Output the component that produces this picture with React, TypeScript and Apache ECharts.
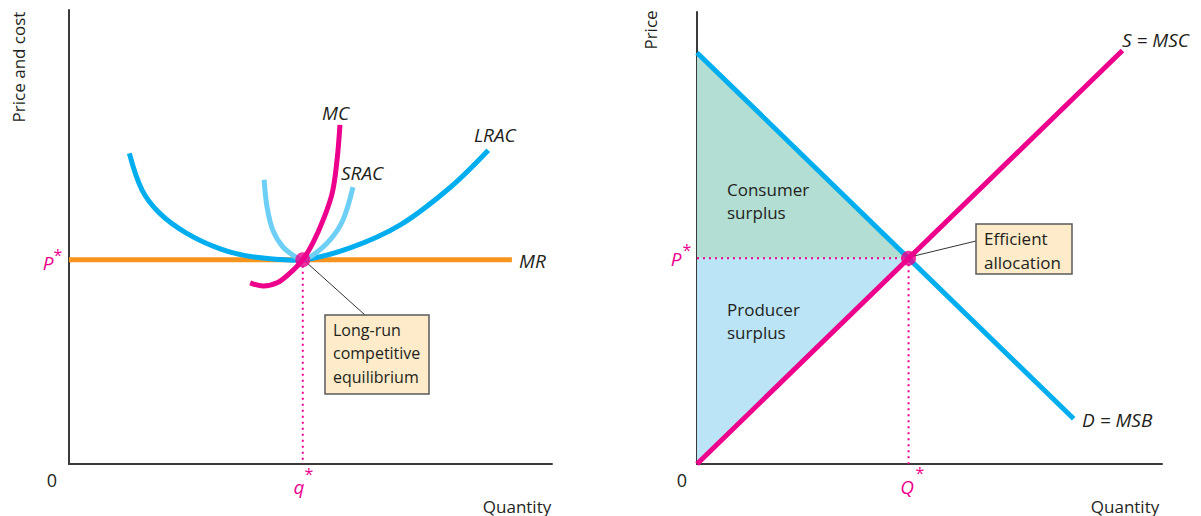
import React, { useEffect, useRef } from "react";
import * as echarts from "echarts";

// ---------- Left panel data (quantity 0-100, price/cost 0-100) ----------
const lracCurve: [number, number][] = [
  [12.5, 68.4], [15.1, 60.4], [18.8, 55.2], [24.4, 50.8], [31.3, 47.4],
  [38.2, 45.6], [48.4, 45.0], [58.2, 47.6], [68.5, 52.6], [78.9, 60.9], [86.8, 69.1],
];
const sracCurve: [number, number][] = [
  [40.4, 62.6], [41.0, 56.6], [42.2, 51.5], [44.3, 47.8], [47.2, 45.4], [48.4, 45.0],
  [50.5, 46.0], [54.0, 49.3], [56.7, 53.7], [58.8, 61.0],
];
const mcCurve: [number, number][] = [
  [37.5, 39.9], [40.2, 39.2], [43.1, 39.9], [45.8, 42.1], [48.4, 45.0], [50.5, 48.7],
  [52.6, 53.7], [54.5, 59.7], [55.5, 67.0], [56.1, 74.7],
];
const mrLine: [number, number][] = [[0, 45.0], [91.7, 45.0]];
const leftEquilibrium: [number, number] = [48.4, 45.0];

// ---------- Right panel data ----------
const demandLine: [number, number][] = [[0, 91.0], [81.0, 10.0]];
const supplyLine: [number, number][] = [[0, 0], [91.5, 91.5]];
const rightEquilibrium: [number, number] = [45.5, 45.5];

// ---------- Labels ----------
const leftAxisNames = { x: "Quantity", y: "Price and cost", origin: "0" };
const rightAxisNames = { x: "Quantity", y: "Price", origin: "0" };
const leftTickLabels = { x: "q", y: "P" };
const rightTickLabels = { x: "Q", y: "P" };
const curveLabels = { mr: "MR", lrac: "LRAC", srac: "SRAC", mc: "MC", s: "S = MSC", d: "D = MSB" };
const leftBoxLines = ["Long-run", "competitive", "equilibrium"];
const rightBoxLines = ["Efficient", "allocation"];
const consumerLabel = ["Consumer", "surplus"];
const producerLabel = ["Producer", "surplus"];

const FONT = "'Open Sans', 'DejaVu Sans', sans-serif";
const INK = "#231f20";
const MAGENTA = "#ec008c";
const BLUE = "#00aeef";
const LIGHTBLUE = "#6dcff6";
const ORANGE = "#f7941d";
const CS_FILL = "#b2ded4";
const PS_FILL = "#bbe4f7";
const BOX_FILL = "#fdebc9";

function txt(text: string, x: number, y: number, extra: any = {}) {
  return {
    type: "text",
    x,
    y,
    z: 100,
    rotation: extra.rotation || 0,
    style: {
      text,
      fill: extra.fill || INK,
      fontFamily: FONT,
      fontSize: extra.fontSize || 17,
      fontStyle: extra.italic ? "italic" : "normal",
      align: extra.align || "left",
      verticalAlign: extra.verticalAlign || "middle",
      lineHeight: extra.lineHeight,
    },
  };
}

export default function App() {
  const ref = useRef<HTMLDivElement>(null);

  useEffect(() => {
    if (!ref.current) return;
    const chart = echarts.init(ref.current, undefined, { renderer: "svg" });

    const axisLine = { show: true, lineStyle: { color: "#3a3a3a", width: 2 } };
    const valueAxis = (gridIndex: number) => ({
      type: "value",
      gridIndex,
      min: 0,
      max: 100,
      axisLine,
      axisTick: { show: false },
      axisLabel: { show: false },
      splitLine: { show: false },
    });

    const lineSeries = (data: [number, number][], color: string, idx: number, extra: any = {}) => ({
      type: "line",
      xAxisIndex: idx,
      yAxisIndex: idx,
      data,
      showSymbol: false,
      symbol: "none",
      lineStyle: { color, width: extra.width || 5, type: extra.type || "solid", cap: "butt" },
      z: extra.z ?? 5,
      silent: true,
    });

    // smooth curve drawn through the data points, positioned by the axes
    const curveSeries = (data: [number, number][], color: string, z: number) => ({
      type: "custom",
      xAxisIndex: 0,
      yAxisIndex: 0,
      data,
      silent: true,
      z,
      renderItem: (params: any, api: any) => {
        if (params.dataIndex !== 0) return null;
        return {
          type: "polyline",
          shape: { points: data.map((p) => api.coord(p)), smooth: 0.35 },
          style: { stroke: color, lineWidth: 5, fill: "none" },
        };
      },
    });

    const polygonSeries = (pts: [number, number][], fill: string) => ({
      type: "custom",
      xAxisIndex: 1,
      yAxisIndex: 1,
      data: [[0, 0]],
      silent: true,
      z: 1,
      renderItem: (_p: any, api: any) => ({
        type: "polygon",
        shape: { points: pts.map((p) => api.coord(p)) },
        style: { fill },
      }),
    });

    const consumerPoly: [number, number][] = [demandLine[0], rightEquilibrium, [0, rightEquilibrium[1]]];
    const producerPoly: [number, number][] = [[0, rightEquilibrium[1]], rightEquilibrium, supplyLine[0]];

    const option: any = {
      animation: false,
      grid: [
        { left: 69, top: 10, width: 483, height: 454 },
        { left: 697, top: 12, width: 465, height: 452 },
      ],
      xAxis: [valueAxis(0), valueAxis(1)],
      yAxis: [valueAxis(0), valueAxis(1)],
      series: [
        // left panel
        lineSeries([[leftEquilibrium[0], leftEquilibrium[1]], [leftEquilibrium[0], 0]], MAGENTA, 0, { width: 2, type: [2, 4], z: 3 }),
        lineSeries(mrLine, ORANGE, 0, { z: 4 }),
        curveSeries(lracCurve, BLUE, 5),
        curveSeries(sracCurve, LIGHTBLUE, 6),
        curveSeries(mcCurve, MAGENTA, 7),
        {
          type: "scatter", xAxisIndex: 0, yAxisIndex: 0, data: [leftEquilibrium],
          symbolSize: 15, itemStyle: { color: MAGENTA }, z: 10, silent: true,
        },
        // right panel
        polygonSeries(consumerPoly, CS_FILL),
        polygonSeries(producerPoly, PS_FILL),
        lineSeries([[0, rightEquilibrium[1]], rightEquilibrium], MAGENTA, 1, { width: 2, type: [2, 4], z: 3 }),
        lineSeries([rightEquilibrium, [rightEquilibrium[0], 0]], MAGENTA, 1, { width: 2, type: [2, 4], z: 3 }),
        lineSeries(demandLine, BLUE, 1, { z: 5 }),
        lineSeries(supplyLine, MAGENTA, 1, { z: 6 }),
        {
          type: "scatter", xAxisIndex: 1, yAxisIndex: 1, data: [rightEquilibrium],
          symbolSize: 15, itemStyle: { color: MAGENTA }, z: 10, silent: true,
        },
      ],
      graphic: [
        // left axis texts
        txt(leftAxisNames.y, 18, 67, { rotation: Math.PI / 2, align: "center" }),
        txt(leftAxisNames.origin, 52, 480, { align: "center", fontSize: 18 }),
        txt(leftAxisNames.x, 517, 506, { align: "center" }),
        txt(leftTickLabels.y, 48, 263, { align: "center", italic: true, fill: MAGENTA, fontSize: 19 }),
        txt("*", 58, 255, { align: "center", fill: MAGENTA, fontSize: 16 }),
        txt(leftTickLabels.x, 299, 487, { align: "center", italic: true, fill: MAGENTA, fontSize: 19 }),
        txt("*", 309, 474, { align: "center", fill: MAGENTA, fontSize: 16 }),
        // left curve labels
        txt(curveLabels.mr, 519, 261, { italic: true, fontSize: 19 }),
        txt(curveLabels.lrac, 474, 135, { italic: true, fontSize: 19 }),
        txt(curveLabels.srac, 341, 173, { italic: true, fontSize: 19 }),
        txt(curveLabels.mc, 322, 113, { italic: true, fontSize: 19 }),
        // left box
        { type: "line", z: 8, shape: { x1: 306, y1: 262, x2: 365, y2: 315 }, style: { stroke: "#333", lineWidth: 1 } },
        { type: "rect", z: 90, shape: { x: 325, y: 315, width: 104, height: 79 }, style: { fill: BOX_FILL, stroke: "#5a5a5a", lineWidth: 1.5 } },
        txt(leftBoxLines.join("\n"), 333, 318, { verticalAlign: "top", lineHeight: 23.5, fontSize: 16 }),
        // right axis texts
        txt(rightAxisNames.y, 650, 30, { rotation: Math.PI / 2, align: "center" }),
        txt(rightAxisNames.origin, 682, 480, { align: "center", fontSize: 18 }),
        txt(rightAxisNames.x, 1125, 506, { align: "center" }),
        txt(rightTickLabels.y, 676, 259, { align: "center", italic: true, fill: MAGENTA, fontSize: 19 }),
        txt("*", 687, 250, { align: "center", fill: MAGENTA, fontSize: 16 }),
        txt(rightTickLabels.x, 907, 487, { align: "center", italic: true, fill: MAGENTA, fontSize: 19 }),
        txt("*", 920, 473, { align: "center", fill: MAGENTA, fontSize: 16 }),
        txt(curveLabels.s, 1122, 40, { italic: true, fontSize: 19 }),
        txt(curveLabels.d, 1082, 420, { italic: true, fontSize: 19 }),
        txt(consumerLabel.join("\n"), 727, 178, { verticalAlign: "top", lineHeight: 23 }),
        txt(producerLabel.join("\n"), 727, 298, { verticalAlign: "top", lineHeight: 23 }),
        { type: "line", z: 8, shape: { x1: 914, y1: 256, x2: 976, y2: 241 }, style: { stroke: "#333", lineWidth: 1 } },
        { type: "rect", z: 90, shape: { x: 976, y: 224, width: 96, height: 50 }, style: { fill: BOX_FILL, stroke: "#5a5a5a", lineWidth: 1.5 } },
        txt(rightBoxLines.join("\n"), 984, 226, { verticalAlign: "top", lineHeight: 24 }),
      ],
    };

    chart.setOption(option);
    return () => chart.dispose();
  }, []);

  return (
    <div
      ref={ref}
      style={{ position: "absolute", left: 0, top: 0, width: 1201, height: 516, background: "#fff" }}
    />
  );
}
